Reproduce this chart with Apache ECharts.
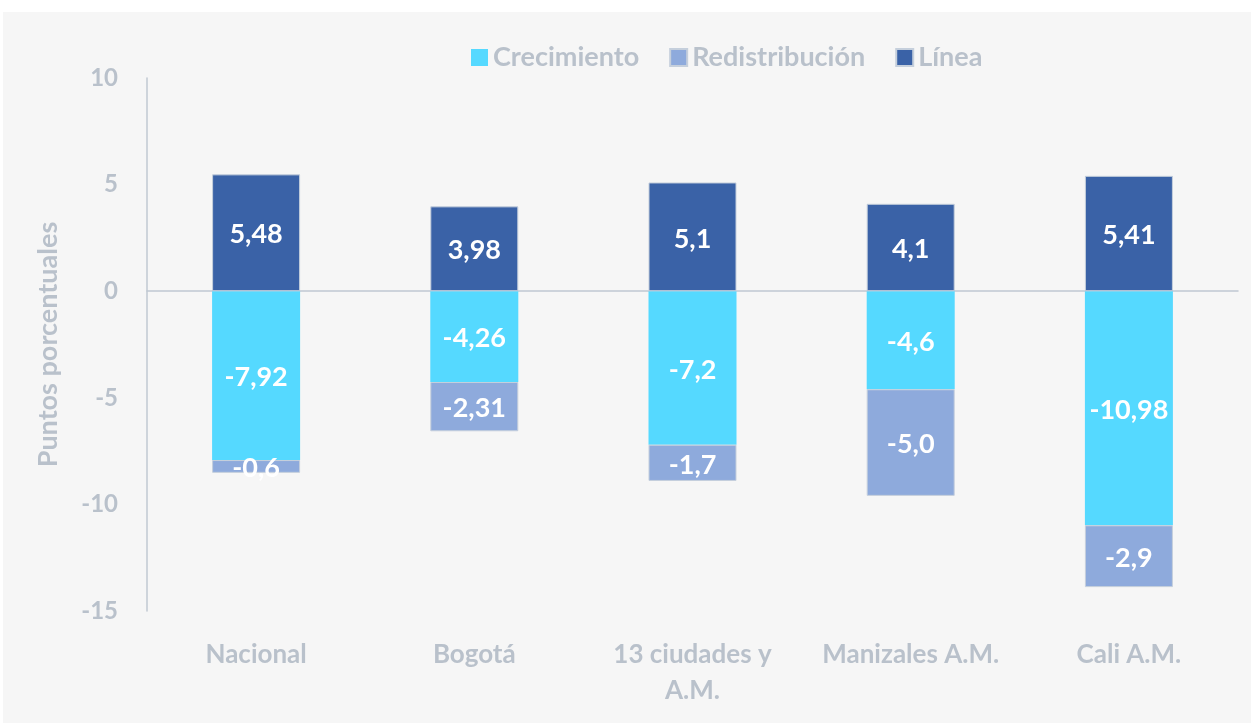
<!DOCTYPE html>
<html>
<head>
<meta charset="utf-8">
<script src="https://cdn.jsdelivr.net/npm/echarts@6/dist/echarts.min.js"></script>
<style>
  html, body { margin: 0; padding: 0; background: #fff; }
  #main { width: 1251px; height: 725px; }
</style>
</head>
<body>
<div id="main"></div>
<script>
// datos
var categorias = ['Nacional', 'Bogotá', '13 ciudades y\nA.M.', 'Manizales A.M.', 'Cali A.M.'];
var crecimiento = [-7.92, -4.26, -7.2, -4.6, -10.98];
var redistribucion = [-0.6, -2.31, -1.7, -5.0, -2.9];
var linea = [5.48, 3.98, 5.1, 4.1, 5.41];
var etiquetasCrec = ['-7,92', '-4,26', '-7,2', '-4,6', '-10,98'];
var etiquetasRedis = ['-0,6', '-2,31', '-1,7', '-5,0', '-2,9'];
var etiquetasLinea = ['5,48', '3,98', '5,1', '4,1', '5,41'];

var gris = '#b9c1cb';
var fuente = 'Lato';

function etiqueta(textos) {
    return {
        show: true,
        position: 'inside',
        offset: [0, 2],
        color: '#fff',
        fontFamily: fuente,
        fontWeight: 'bold',
        fontSize: 27,
        formatter: function (p) { return textos[p.dataIndex]; }
    };
}

var myChart = echarts.init(document.getElementById('main'));
var option = {
    backgroundColor: '#fff',
    animation: false,
    graphic: [{
        type: 'rect',
        z: -10,
        silent: true,
        shape: { x: 3, y: 12, width: 1248, height: 711 },
        style: { fill: '#f6f6f6' }
    }],
    legend: {
        top: 39,
        left: 466,
        itemWidth: 17,
        itemHeight: 17,
        itemGap: 30,
        icon: 'rect',
        textStyle: { color: gris, fontFamily: fuente, fontWeight: 'bold', fontSize: 27 },
        data: ['Crecimiento', 'Redistribución', 'Línea']
    },
    grid: { left: 147, right: 13, top: 78, bottom: 114 },
    xAxis: [{
        type: 'category',
        data: categorias,
        axisLine: { show: false, onZero: false },
        axisTick: { show: false },
        axisLabel: {
            color: gris, fontFamily: fuente, fontWeight: 'bold', fontSize: 26,
            margin: 26, lineHeight: 36, interval: 0
        }
    }, {
        type: 'category',
        data: categorias,
        position: 'bottom',
        axisLine: { show: true, onZero: true, lineStyle: { color: '#c0c8d2', width: 1.5 } },
        axisTick: { show: false },
        axisLabel: { show: false }
    }],
    yAxis: {
        type: 'value',
        min: -15,
        max: 10,
        interval: 5,
        name: 'Puntos porcentuales',
        nameLocation: 'middle',
        nameGap: 85,
        nameTextStyle: { color: gris, fontFamily: fuente, fontWeight: 'bold', fontSize: 27 },
        axisLine: { show: true, lineStyle: { color: '#c0c8d2', width: 1.5 } },
        axisTick: { show: false },
        splitLine: { show: false },
        axisLabel: { color: gris, fontFamily: fuente, fontWeight: 'bold', fontSize: 24, margin: 29 }
    },
    series: [{
        name: 'Crecimiento',
        type: 'bar',
        stack: 'total',
        barWidth: 88,
        data: crecimiento,
        itemStyle: { color: '#55d9ff' },
        label: etiqueta(etiquetasCrec)
    }, {
        name: 'Redistribución',
        type: 'bar',
        stack: 'total',
        barWidth: 88,
        data: redistribucion,
        itemStyle: { color: '#8eaadc', borderColor: '#c5cfdc', borderWidth: 1 },
        label: etiqueta(etiquetasRedis)
    }, {
        name: 'Línea',
        type: 'bar',
        stack: 'total',
        barWidth: 88,
        data: linea,
        itemStyle: { color: '#3a62a7', borderColor: '#c5cfdc', borderWidth: 1 },
        label: etiqueta(etiquetasLinea)
    }]
};
myChart.setOption(option);
</script>
</body>
</html>
